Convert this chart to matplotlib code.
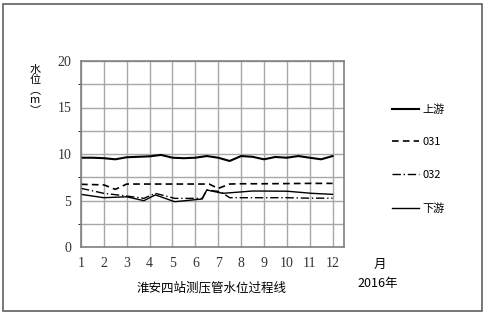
import matplotlib
matplotlib.use("Agg")
import matplotlib.pyplot as plt
from matplotlib.patches import Rectangle

plt.rcParams['font.family'] = ['Noto Sans CJK SC', 'DejaVu Sans']

# upstream / downstream water level and two piezometer tubes (m), by month
up_x = [1.0, 1.5, 2.0, 2.5, 3.0, 3.5, 4.0, 4.5, 5.0, 5.5, 6.0, 6.5, 7.0, 7.5, 8.0, 8.5, 9.0, 9.5, 10.0, 10.5, 11.0, 11.5, 12.0]
up_y = [9.6, 9.6, 9.55, 9.43, 9.65, 9.7, 9.75, 9.9, 9.6, 9.55, 9.6, 9.78, 9.6, 9.25, 9.78, 9.7, 9.43, 9.68, 9.6, 9.78, 9.6, 9.43, 9.78]

t031_x = [1.0, 2.0, 2.5, 3.0, 4.0, 5.0, 6.0, 6.6, 7.0, 7.5, 8.0, 9.0, 10.0, 11.0, 12.0]
t031_y = [6.74, 6.68, 6.2, 6.77, 6.77, 6.77, 6.77, 6.77, 6.3, 6.77, 6.8, 6.8, 6.82, 6.84, 6.84]

t032_x = [1.0, 2.0, 3.0, 3.75, 4.25, 5.1, 6.3, 6.5, 7.1, 7.5, 8.0, 9.0, 10.0, 11.0, 12.0]
t032_y = [6.31, 5.77, 5.48, 5.23, 5.77, 5.23, 5.23, 6.13, 5.95, 5.3, 5.3, 5.3, 5.3, 5.25, 5.25]

down_x = [1.0, 2.0, 3.0, 3.75, 4.25, 5.1, 6.3, 6.5, 7.2, 8.5, 10.0, 11.1, 12.0]
down_y = [5.66, 5.3, 5.4, 4.98, 5.6, 4.87, 5.16, 6.13, 5.77, 6.02, 6.0, 5.77, 5.66]

months = list(range(1, 13))
y_ticks = [0, 5, 10, 15, 20]

fig = plt.figure(figsize=(4.86, 3.14), dpi=100)
fig.patches.append(Rectangle((3 / 486, 3 / 314), 479 / 486, 307 / 314, transform=fig.transFigure,
                             fill=False, edgecolor='#606060', linewidth=1.2))

ax = fig.add_axes([81 / 486, 1 - 247 / 314, 263 / 486, 186 / 314])
ax.plot(up_x, up_y, color='black', linewidth=1.5, label='上游')
ax.plot(t031_x, t031_y, color='black', linewidth=1.2, linestyle=(0, (4, 2.5)), label='031')
ax.plot(t032_x, t032_y, color='black', linewidth=1.0, linestyle=(0, (6, 2, 1, 2)), label='032')
ax.plot(down_x, down_y, color='black', linewidth=1.0, label='下游')

ax.set_xlim(1, 12.5)
ax.set_ylim(0, 20)
ax.set_xticks(months)
ax.set_yticks(y_ticks)
ax.set_yticks([2.5, 7.5, 12.5, 17.5], minor=True)
ax.grid(True, which='both', color='#a8a8a8', linewidth=1.0)
ax.tick_params(length=0, labelsize=10, pad=7, labelcolor='#333333')
for lab in ax.get_xticklabels() + ax.get_yticklabels():
    lab.set_family('Liberation Serif')
for s in ax.spines.values():
    s.set_color('#808080')
    s.set_linewidth(1.2)

fig.text(35 / 486, 1 - 90 / 314, '水\n位\n︵\nm\n︶', ha='center', va='center',
         fontsize=8, linespacing=1.0)

leg = fig.legend(loc='upper left', bbox_to_anchor=(382 / 486, 1 - 94 / 314), frameon=False,
                 fontsize=8, handlelength=2.4, handletextpad=0.3, labelspacing=2.05)

fig.text(212 / 486, 1 - 288 / 314, '淮安四站测压管水位过程线', ha='center', va='center', fontsize=9)
fig.text(380 / 486, 1 - 264 / 314, '月', ha='center', va='center', fontsize=9)
fig.text(378 / 486, 1 - 283 / 314, '2016年', ha='center', va='center', fontsize=9)

fig.savefig('out.png', dpi=100)
